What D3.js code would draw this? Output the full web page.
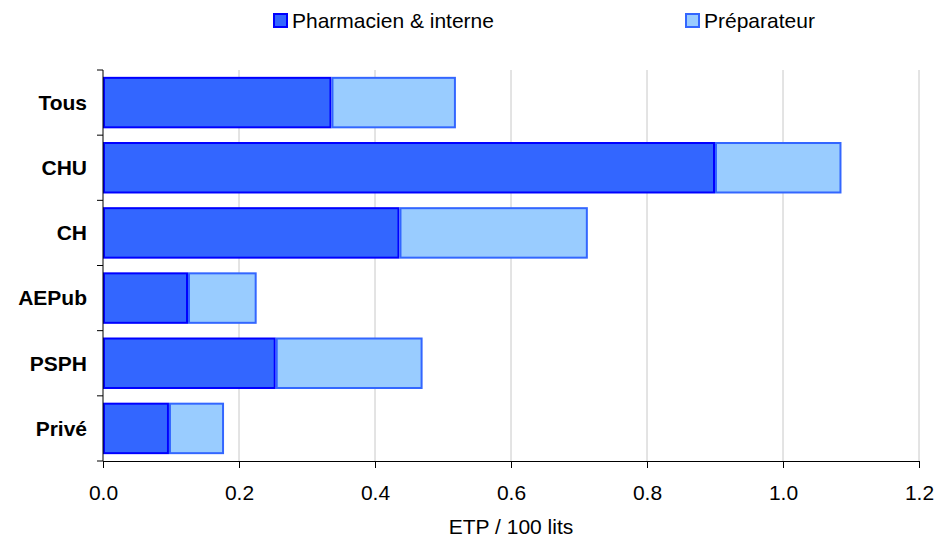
<!DOCTYPE html>
<html>
<head>
<meta charset="utf-8">
<script src="https://cdn.jsdelivr.net/npm/d3@7"></script>
<style>
  body { margin: 0; background: #fff; }
  svg text { font-family: "Liberation Sans", Arial, sans-serif; }
</style>
</head>
<body>
<svg id="chart" width="935" height="537"></svg>
<script>
// categories and values (ETP / 100 lits)
const categories = ["Tous", "CHU", "CH", "AEPub", "PSPH", "Privé"];
const pharmacien = [0.336, 0.900, 0.436, 0.125, 0.254, 0.097];
const preparateur = [0.183, 0.186, 0.277, 0.101, 0.216, 0.081];
const seriesNames = ["Pharmacien & interne", "Préparateur"];
const xTicks = [0, 0.2, 0.4, 0.6, 0.8, 1.0, 1.2];

const fills = ["#3366ff", "#99ccff"];
const strokes = ["#0000ff", "#3366ff"];
const fontSize = 21;

const svg = d3.select("#chart");
const margin = { left: 103, right: 16, top: 70, bottom: 76 };
const W = 935, H = 537;

const x = d3.scaleLinear().domain([0, 1.2]).range([margin.left, W - margin.right]);
const y = d3.scaleBand().domain(categories).range([margin.top, H - margin.bottom]).paddingInner(0.21).paddingOuter(0.105);

// gridlines
svg.append("g")
  .selectAll("line")
  .data(xTicks.slice(1))
  .join("line")
  .attr("x1", d => x(d)).attr("x2", d => x(d))
  .attr("y1", margin.top).attr("y2", H - margin.bottom)
  .attr("stroke", "#c8c8c8").attr("stroke-width", 1);

// stacked bars
const rows = categories.map((c, i) => ({ cat: c, vals: [pharmacien[i], preparateur[i]] }));
rows.forEach(r => {
  let start = 0;
  r.vals.forEach((v, s) => {
    svg.append("rect")
      .attr("x", x(start) + 1)
      .attr("y", y(r.cat) + 1)
      .attr("width", x(start + v) - x(start) - 2)
      .attr("height", y.bandwidth() - 2)
      .attr("fill", fills[s])
      .attr("stroke", strokes[s])
      .attr("stroke-width", 2);
    start += v;
  });
});

// y axis
const yBoundaries = [margin.top].concat(categories.map(c => y(c) + y.bandwidth() + y.step() * y.paddingInner() / 2));
yBoundaries[yBoundaries.length - 1] = H - margin.bottom;
svg.append("line")
  .attr("x1", margin.left).attr("x2", margin.left)
  .attr("y1", margin.top).attr("y2", H - margin.bottom)
  .attr("stroke", "#000");
svg.append("g").selectAll("line")
  .data(yBoundaries)
  .join("line")
  .attr("x1", margin.left - 6).attr("x2", margin.left)
  .attr("y1", d => d).attr("y2", d => d)
  .attr("stroke", "#000");
svg.append("g").selectAll("text")
  .data(categories)
  .join("text")
  .attr("x", 87)
  .attr("y", d => y(d) + y.bandwidth() / 2)
  .attr("dy", "0.35em")
  .attr("text-anchor", "end")
  .attr("font-size", fontSize)
  .attr("font-weight", "bold")
  .text(d => d);

// x axis
const xAxis = d3.axisBottom(x)
  .tickValues(xTicks)
  .tickFormat(d3.format(".1f"))
  .tickSizeOuter(0)
  .tickSize(7)
  .tickPadding(17);
const gx = svg.append("g")
  .attr("transform", `translate(0,${H - margin.bottom})`)
  .call(xAxis);
gx.select(".domain").attr("stroke", "#000");
gx.selectAll("text").attr("font-size", fontSize).attr("font-family", "Liberation Sans, Arial, sans-serif").attr("fill", "#000");

svg.append("text")
  .attr("x", x(0.6))
  .attr("y", 534)
  .attr("text-anchor", "middle")
  .attr("font-size", fontSize)
  .text("ETP / 100 lits");

// legend
const legendX = [274, 686];
seriesNames.forEach((n, i) => {
  svg.append("rect")
    .attr("x", legendX[i]).attr("y", 14)
    .attr("width", 13).attr("height", 13)
    .attr("fill", fills[i]).attr("stroke", strokes[i]).attr("stroke-width", 2);
  svg.append("text")
    .attr("x", legendX[i] + 18).attr("y", 28)
    .attr("font-size", fontSize)
    .text(n);
});
</script>
</body>
</html>
